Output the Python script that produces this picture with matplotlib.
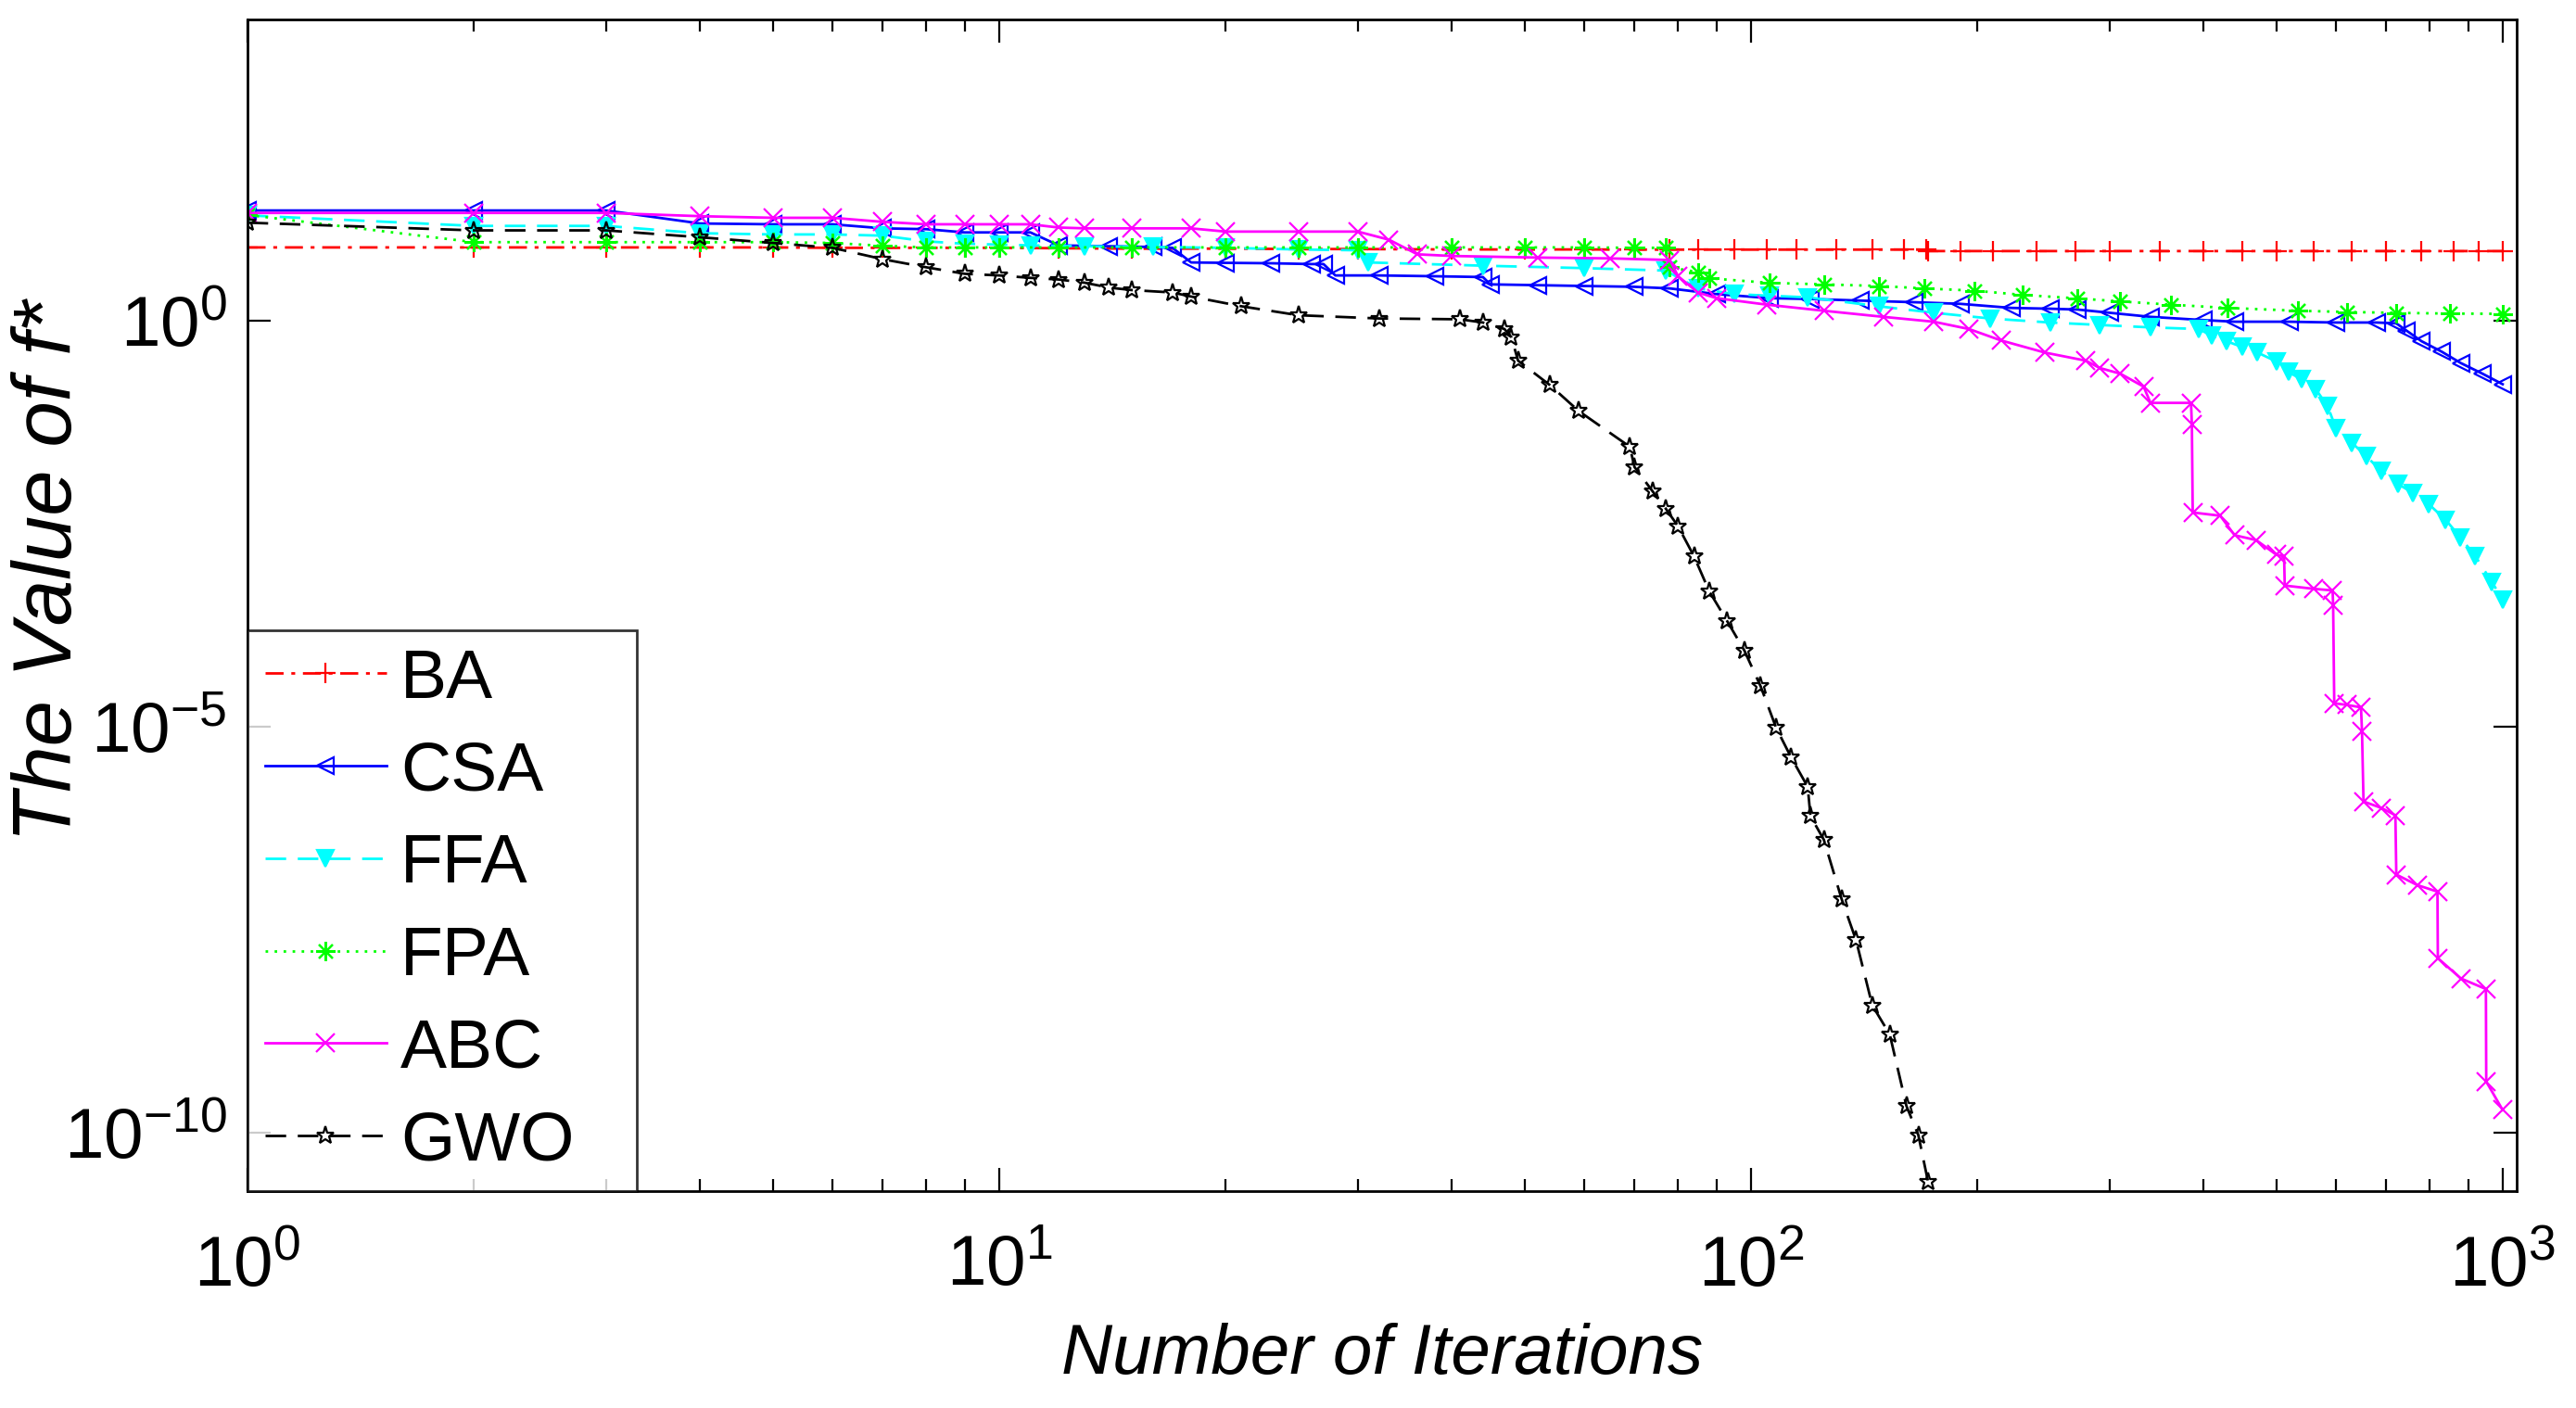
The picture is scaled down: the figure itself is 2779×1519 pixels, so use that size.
import matplotlib
matplotlib.use("Agg")
import matplotlib.pyplot as plt
import numpy as np
from matplotlib.ticker import LogLocator, NullLocator, FixedLocator

# best-so-far values, stored as log10(f*)
ba_iter = [1, 2, 3, 4, 5, 6, 7, 8, 9, 10, 12, 15, 20, 25, 30, 40, 50, 60, 70, 78,
           85, 95, 105, 115, 130, 145, 160, 171, 172, 190, 210, 240, 270, 300,
           350, 400, 450, 500, 560, 630, 700, 780, 860, 930, 1000]
ba_log = [0.905, 0.905, 0.905, 0.905, 0.905, 0.90, 0.90, 0.90, 0.90, 0.90,
          0.895, 0.89, 0.89, 0.885, 0.885, 0.88, 0.88, 0.88, 0.878, 0.878,
          0.878, 0.878, 0.878, 0.878, 0.878, 0.878, 0.878, 0.878, 0.86, 0.86,
          0.86, 0.86, 0.86, 0.86, 0.86, 0.86, 0.86, 0.86, 0.86, 0.86,
          0.86, 0.86, 0.86, 0.86, 0.86]

csa_iter = [1, 2, 3, 4, 5, 6, 7, 8, 9, 10, 11, 12, 14, 16, 17, 18, 20, 23, 26, 27,
            28, 32, 38, 44, 45, 52, 60, 70, 78, 90, 106, 120, 140, 165, 190, 222,
            250, 272, 300, 340, 400, 440, 520, 600, 680, 722, 745, 780, 830, 880,
            940, 1000]
csa_log = [1.36, 1.36, 1.36, 1.20, 1.19, 1.19, 1.14, 1.13, 1.09, 1.09, 1.09, 0.93,
           0.92, 0.91, 0.90, 0.72, 0.715, 0.71, 0.70, 0.70, 0.56, 0.56, 0.55, 0.54,
           0.45, 0.44, 0.43, 0.42, 0.40, 0.33, 0.28, 0.27, 0.25, 0.23, 0.21, 0.16,
           0.15, 0.14, 0.10, 0.05, 0.01, -0.01, -0.01, -0.02, -0.02, -0.03, -0.12,
           -0.25, -0.38, -0.52, -0.65, -0.78]

ffa_iter = [1, 2, 3, 4, 5, 6, 7, 8, 9, 10, 11, 13, 16, 20, 25, 30, 31, 44, 60, 77,
            85, 95, 106, 119, 148, 175, 208, 250, 291, 340, 394, 410, 429, 450, 472,
            500, 519, 540, 564, 585, 600, 630, 659, 690, 726, 760, 798, 840, 879,
            920, 968, 1000]
ffa_log = [1.30, 1.17, 1.17, 1.08, 1.065, 1.065, 1.05, 0.98, 0.95, 0.94, 0.93, 0.92,
           0.91, 0.90, 0.88, 0.87, 0.72, 0.68, 0.65, 0.62, 0.40, 0.33, 0.31, 0.29,
           0.18, 0.10, 0.03, -0.02, -0.05, -0.08, -0.10, -0.18, -0.25, -0.32, -0.39,
           -0.50, -0.63, -0.72, -0.84, -1.05, -1.32, -1.50, -1.67, -1.85, -2.01,
           -2.12, -2.26, -2.45, -2.67, -2.90, -3.22, -3.43]

fpa_iter = [1, 2, 3, 4, 5, 6, 7, 8, 9, 10, 12, 15, 20, 25, 30, 40, 50, 60, 70, 77,
            78, 85, 88, 106, 125, 148, 170, 198, 230, 272, 310, 362, 430, 534, 620,
            722, 850, 1000]
fpa_log = [1.305, 0.97, 0.97, 0.97, 0.97, 0.96, 0.925, 0.905, 0.905, 0.905, 0.905,
           0.905, 0.905, 0.905, 0.905, 0.905, 0.905, 0.905, 0.90, 0.90, 0.66, 0.60,
           0.525, 0.468, 0.45, 0.43, 0.40, 0.373, 0.32, 0.277, 0.24, 0.20, 0.16,
           0.125, 0.11, 0.099, 0.09, 0.087]

abc_iter = [1, 2, 3, 4, 5, 6, 7, 8, 9, 10, 11, 12, 13, 15, 18, 20, 25, 30, 33, 36,
            40, 52, 65, 78, 80, 85, 90, 105, 125, 150, 175, 195, 215, 246, 279, 291,
            310, 333, 340, 385, 386, 387, 421, 440, 470, 500, 512, 513, 560, 594,
            595, 597, 620, 648, 650, 653, 690, 720, 722, 770, 819, 820, 880, 950,
            951, 1000]
abc_log = [1.33, 1.33, 1.33, 1.29, 1.27, 1.27, 1.22, 1.19, 1.19, 1.19, 1.19, 1.15,
           1.14, 1.14, 1.14, 1.10, 1.10, 1.10, 1.0, 0.82, 0.80, 0.78, 0.77, 0.75,
           0.55, 0.35, 0.28, 0.20, 0.125, 0.05, -0.01, -0.10, -0.24, -0.39, -0.49,
           -0.58, -0.65, -0.81, -1.01, -1.01, -1.28, -2.36, -2.40, -2.64, -2.70,
           -2.88, -2.90, -3.26, -3.30, -3.32, -3.50, -4.71, -4.73, -4.76, -5.06,
           -5.92, -6.00, -6.09, -6.82, -6.95, -7.03, -7.85, -8.10, -8.23, -9.37,
           -9.72]

gwo_iter = [1, 2, 3, 4, 5, 6, 7, 8, 9, 10, 11, 12, 13, 14, 15, 17, 18, 21, 25, 32,
            41, 44, 47, 48, 49, 54, 59, 69, 70, 74, 77, 80, 84, 88, 93, 98, 103,
            108, 113, 119, 120, 125, 132, 138, 145, 153, 161, 167, 172, 176]
gwo_log = [1.21, 1.115, 1.115, 1.03, 0.96, 0.90, 0.76, 0.66, 0.58, 0.56, 0.53, 0.51,
           0.47, 0.41, 0.38, 0.35, 0.30, 0.18, 0.07, 0.03, 0.02, -0.02, -0.10, -0.20,
           -0.49, -0.79, -1.11, -1.55, -1.80, -2.10, -2.31, -2.53, -2.90, -3.33,
           -3.70, -4.06, -4.50, -5.01, -5.37, -5.74, -6.10, -6.39, -7.12, -7.63,
           -8.43, -8.79, -9.67, -10.03, -10.6, -11.0]

labels = ["BA", "CSA", "FFA", "FPA", "ABC", "GWO"]
colors = ["#ff0000", "#0000ff", "#00ffff", "#00ff00", "#ff00ff", "#000000"]


def main() -> None:
    plt.rcParams["font.family"] = ["Liberation Sans", "DejaVu Sans"]
    plt.rcParams["mathtext.fontset"] = "custom"
    plt.rcParams["mathtext.rm"] = "Liberation Sans"
    plt.rcParams["mathtext.it"] = "Liberation Sans:italic"
    plt.rcParams["mathtext.bf"] = "Liberation Sans:bold"

    fig = plt.figure(figsize=(27.79, 15.19), dpi=100)
    ax = fig.add_axes([0.0961, 0.154, 0.881, 0.832])

    series = [
        (ba_iter, ba_log, (0, (7, 3, 1.5, 3)), "+", 16, colors[0]),
        (csa_iter, csa_log, "-", "<", 13, "none"),
        (ffa_iter, ffa_log, (0, (8, 4.5)), "v", 13, colors[2]),
        (fpa_iter, fpa_log, (0, (1, 2.5)), (8, 2, 0), 15, colors[3]),
        (abc_iter, abc_log, "-", "x", 14, colors[4]),
        (gwo_iter, gwo_log, (0, (8, 4.5)), "*", 14, "none"),
    ]
    for (it, lg, ls, mk, ms, mfc), lab, col in zip(series, labels, colors):
        ax.plot(it, 10.0 ** np.array(lg), linestyle=ls, color=col, lw=2.0,
                marker=mk, markersize=ms, markerfacecolor=mfc,
                markeredgecolor=col, markeredgewidth=1.6, label=lab)

    ax.set_xscale("log")
    ax.set_yscale("log")
    ax.set_xlim(1, 1045)
    ax.set_ylim(10 ** -10.72, 10 ** 3.71)

    ax.xaxis.set_major_locator(LogLocator(base=10, numticks=10))
    ax.xaxis.set_minor_locator(LogLocator(base=10, subs=np.arange(2, 10), numticks=20))
    ax.yaxis.set_major_locator(FixedLocator([1e-10, 1e-5, 1e0]))
    ax.yaxis.set_minor_locator(NullLocator())

    ax.tick_params(which="both", direction="in", top=True, right=True, width=1.6)
    ax.tick_params(which="major", length=18)
    ax.tick_params(which="minor", length=9.5)
    ax.tick_params(axis="x", which="major", labelsize=55, pad=34)
    ax.tick_params(axis="y", which="major", labelsize=55, pad=16)
    for sp in ax.spines.values():
        sp.set_linewidth(2.0)

    ax.set_xlabel("Number of Iterations", fontsize=55, style="italic")
    ax.set_ylabel("The Value of f*", fontsize=64, style="italic")
    ax.xaxis.set_label_coords(0.5, -0.112)
    ax.yaxis.set_label_coords(-0.07, 0.53)

    leg = ax.legend(loc="lower left", bbox_to_anchor=(0.0, 0.0, 0.1716, 0.0),
                    mode="expand", fontsize=54, frameon=True, fancybox=False,
                    borderaxespad=0.0, borderpad=0.25, handlelength=1.75,
                    handletextpad=0.2, labelspacing=0.41)
    leg.get_frame().set_edgecolor("black")
    leg.get_frame().set_linewidth(2.0)

    fig.savefig("out.png", dpi=100)


if __name__ == "__main__":
    main()
